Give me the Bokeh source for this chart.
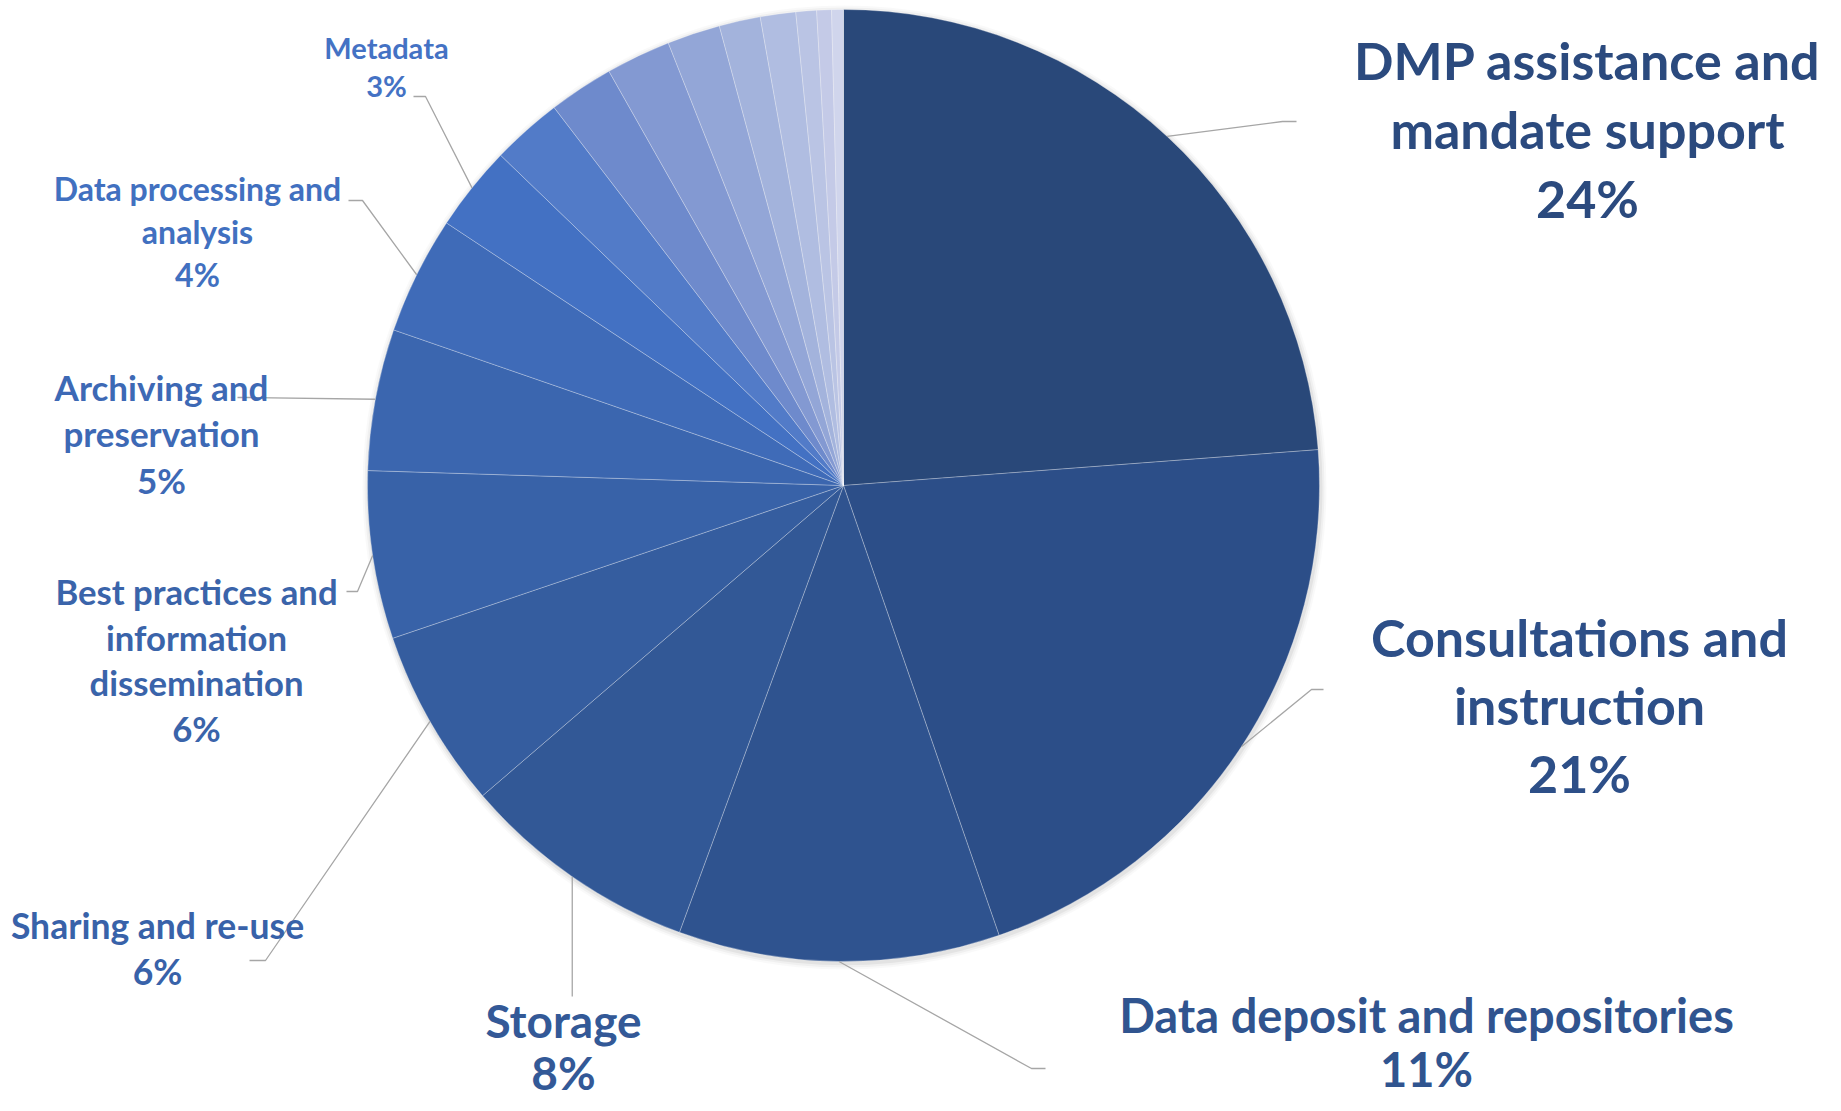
import math
from bokeh.plotting import figure
from bokeh.models import Range1d
from bokeh.embed import file_html
from bokeh.resources import INLINE
from bokeh.core.properties import value

# ---------------- data ----------------
categories = [
    "DMP assistance and\nmandate support",
    "Consultations and\ninstruction",
    "Data deposit and repositories",
    "Storage",
    "Sharing and re-use",
    "Best practices and\ninformation\ndissemination",
    "Archiving and\npreservation",
    "Data processing and\nanalysis",
    "Metadata",
    "Other A", "Other B", "Other C", "Other D", "Other E",
    "Other F", "Other G", "Other H", "Other I",
]
shares = [23.8, 20.9, 10.9, 8.1, 6.1, 5.7, 4.8, 4.0, 2.9,
          2.4, 2.2, 2.2, 1.8, 1.4, 1.2, 0.7, 0.5, 0.4]
labeled_count = 9

# ---------------- style / layout ----------------
colors = ["#294879", "#2C4E88", "#2F538F", "#325896", "#355D9F", "#3862A8",
          "#3B66AF", "#3F6BB8", "#4371C3", "#527BC8", "#6E8ACC", "#8399D2",
          "#93A6D7", "#A3B3DC", "#B0BDE1", "#BAC4E4", "#C4CAE7", "#D0D5EC"]
label_colors = ["#2B4A7E", "#2D4F88", "#30548F", "#335997", "#3862A9",
                "#3A64AA", "#3D69B5", "#4170C0", "#4472C4"]
# (center x, first line y, line spacing, font px, elbow (x,y), end (x,y)) in screen px
label_layout = [
    (1587, 59, 69, 52, (1282, 121), (1296, 121)),
    (1579, 636, 68, 52, (1311, 689), (1323, 689)),
    (1426, 1014, 54, 47, (1031, 1068), (1045, 1068)),
    (563, 1020, 52, 46, None, (573, 996)),
    (157, 925, 46, 35.5, (265, 960), (249, 960)),
    (196, 591, 45.7, 34.7, (357, 591), (346, 591)),
    (161, 386, 46.5, 35, (250, 397), (237, 397)),
    (197, 188, 43, 32, (362, 200), (348, 200)),
    (386, 47, 38, 29, (425, 96), (413, 96)),
]

CX, CY, R = 843, 485, 476  # pie center / radius in screen px
PAGE_H = 1111
FONT = "Lato"


def sy(y):
    return PAGE_H - y


p = figure(width=1825, height=1100, x_range=Range1d(0, 1825), y_range=Range1d(11, 1111),
           output_backend="svg", toolbar_location=None, min_border=0)
p.outline_line_color = None
p.axis.visible = False
p.grid.visible = False
p.background_fill_color = "white"
p.border_fill_color = "white"

# soft shadow
for k, a in [(6, 0.025), (4, 0.035), (2, 0.05)]:
    p.circle(x=[CX + 1], y=[sy(CY + 2)], radius=[R + k], fill_color="black",
             fill_alpha=a, line_color=None)

total = sum(shares)
starts, ends, mids = [], [], []
cum = 0.0
for s in shares:
    f0 = cum / total
    cum += s
    f1 = cum / total
    starts.append(math.pi / 2 - 2 * math.pi * f0)
    ends.append(math.pi / 2 - 2 * math.pi * f1)
    mids.append(2 * math.pi * (f0 + f1) / 2)  # clockwise from top

p.wedge(x=CX, y=sy(CY), radius=R, start_angle=starts, end_angle=ends,
        direction="clock", fill_color=colors, line_color="white",
        line_alpha=0.35, line_width=0.8)

# leader lines
xs, ys = [], []
for i in range(labeled_count):
    th = mids[i]
    x0 = CX + R * math.sin(th)
    y0 = CY - R * math.cos(th)
    _, _, _, _, elbow, end = label_layout[i]
    if elbow is None:
        px = [x0, x0]
        py = [y0, end[1]]
    else:
        px = [x0, elbow[0], end[0]]
        py = [y0, elbow[1], end[1]]
    xs.append(px)
    ys.append([sy(v) for v in py])
p.multi_line(xs=xs, ys=ys, line_color="#A6A6A6", line_width=1.3)

# labels
for i in range(labeled_count):
    cx, y0, dy, fs, _, _ = label_layout[i]
    lines = categories[i].split("\n") + [f"{round(shares[i])}%"]
    p.text(x=[cx] * len(lines), y=[sy(y0 + k * dy) for k in range(len(lines))],
           text=lines, text_align="center", text_baseline="middle",
           text_font=value(FONT), text_font_style="bold",
           text_font_size=f"{fs}px", text_color=label_colors[i])

open("out.html", "w").write(file_html(p, INLINE))
